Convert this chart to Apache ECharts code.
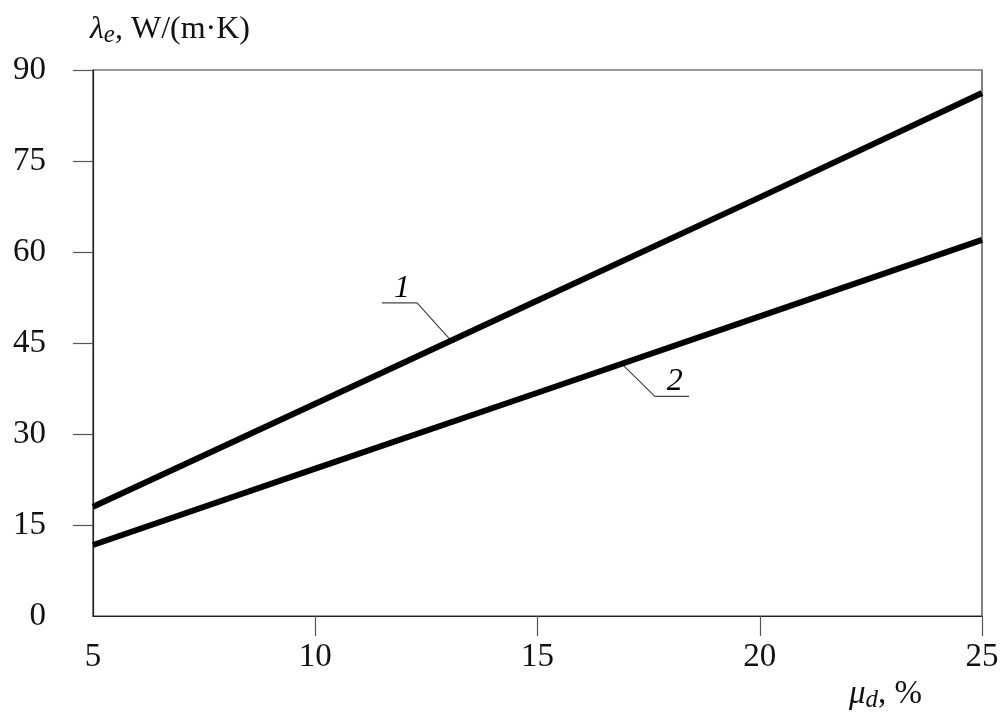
<!DOCTYPE html>
<html>
<head>
<meta charset="utf-8">
<script src="https://cdn.jsdelivr.net/npm/echarts@6/dist/echarts.min.js"></script>
<style>html,body{margin:0;padding:0;background:#fff}#c{width:1007px;height:727px}</style>
</head>
<body>
<div id="c"></div>
<script>
const xValues = [5, 10, 15, 20, 25];
const curve1 = [18.0, 35.0, 52.0, 69.0, 86.2];
const curve2 = [11.7, 24.3, 36.8, 49.4, 62.0];
const xTicks = [5, 10, 15, 20, 25];
const yTicks = [0, 15, 30, 45, 60, 75, 90];
const leader1 = [[11.5, 51.6], [12.29, 51.6], [13.03, 45.6]];
const leader2 = [[16.92, 41.4], [17.64, 36.2], [18.41, 36.2]];
const label1Pos = [11.95, 53.9];
const label2Pos = [18.09, 38.6];

const serif = '"Liberation Serif", "DejaVu Serif", serif';
const chart = echarts.init(document.getElementById('c'));
chart.setOption({
  animation: false,
  backgroundColor: '#fff',
  title: {
    left: 85, top: 6,
    text: '{l|λ}{s|e}{n|, W/(m·K)}',
    textStyle: {
      fontWeight: 'normal', fontSize: 32, fontFamily: serif,
      rich: {
        l: {fontFamily: serif, fontStyle: 'italic', fontWeight: 'normal', fontSize: 32, color: '#111'},
        s: {fontFamily: serif, fontStyle: 'italic', fontWeight: 'normal', fontSize: 25, color: '#111', verticalAlign: 'bottom', padding: [12, 0, 0, 0]},
        n: {fontFamily: serif, fontWeight: 'normal', fontSize: 32, color: '#111'}
      }
    }
  },
  graphic: [{
    type: 'text', left: 849, top: 678,
    style: {
      text: '{m|μ}{s|d}{n|, %}',
      rich: {
        m: {fontFamily: serif, fontStyle: 'italic', fontSize: 33, fill: '#111'},
        s: {fontFamily: serif, fontStyle: 'italic', fontSize: 25, fill: '#111', verticalAlign: 'bottom', padding: [12, 0, 0, 0]},
        n: {fontFamily: serif, fontSize: 33, fill: '#111'}
      }
    }
  }],
  grid: {left: 93, right: 25, top: 70, bottom: 111, show: true, borderColor: '#333', borderWidth: 1.2, backgroundColor: 'transparent'},
  xAxis: {
    type: 'value', min: 5, max: 25, interval: 5,
    axisLine: {show: true, lineStyle: {color: '#222', width: 1.2}},
    axisTick: {show: true, length: 20, inside: false, customValues: [10, 15, 20, 25], lineStyle: {color: '#555', width: 1.2}},
    axisLabel: {customValues: xTicks, margin: 25, fontFamily: serif, fontSize: 33, color: '#111'},
    splitLine: {show: false}
  },
  yAxis: {
    type: 'value', min: 0, max: 90, interval: 15,
    axisLine: {show: true, lineStyle: {color: '#222', width: 1.2}},
    axisTick: {show: true, length: 20, inside: false, customValues: [15, 30, 45, 60, 75, 90], lineStyle: {color: '#555', width: 1.2}},
    axisLabel: {customValues: yTicks, margin: 47, fontFamily: serif, fontSize: 33, color: '#111'},
    splitLine: {show: false}
  },
  series: [
    {type: 'line', data: xValues.map((x, i) => [x, curve1[i]]), symbol: 'none', lineStyle: {color: '#000', width: 6}, z: 3},
    {type: 'line', data: xValues.map((x, i) => [x, curve2[i]]), symbol: 'none', lineStyle: {color: '#000', width: 6}, z: 3},
    {type: 'line', data: leader1, symbol: 'none', lineStyle: {color: '#444', width: 1.2}, z: 2},
    {type: 'line', data: leader2, symbol: 'none', lineStyle: {color: '#444', width: 1.2}, z: 2},
    {type: 'scatter', symbolSize: 0, itemStyle: {opacity: 1}, data: [label1Pos], label: {show: true, position: 'inside', formatter: '1', fontFamily: serif, fontStyle: 'italic', fontSize: 32, color: '#000'}},
    {type: 'scatter', symbolSize: 0, itemStyle: {opacity: 1}, data: [label2Pos], label: {show: true, position: 'inside', formatter: '2', fontFamily: serif, fontStyle: 'italic', fontSize: 32, color: '#000'}}
  ]
});
</script>
</body>
</html>
